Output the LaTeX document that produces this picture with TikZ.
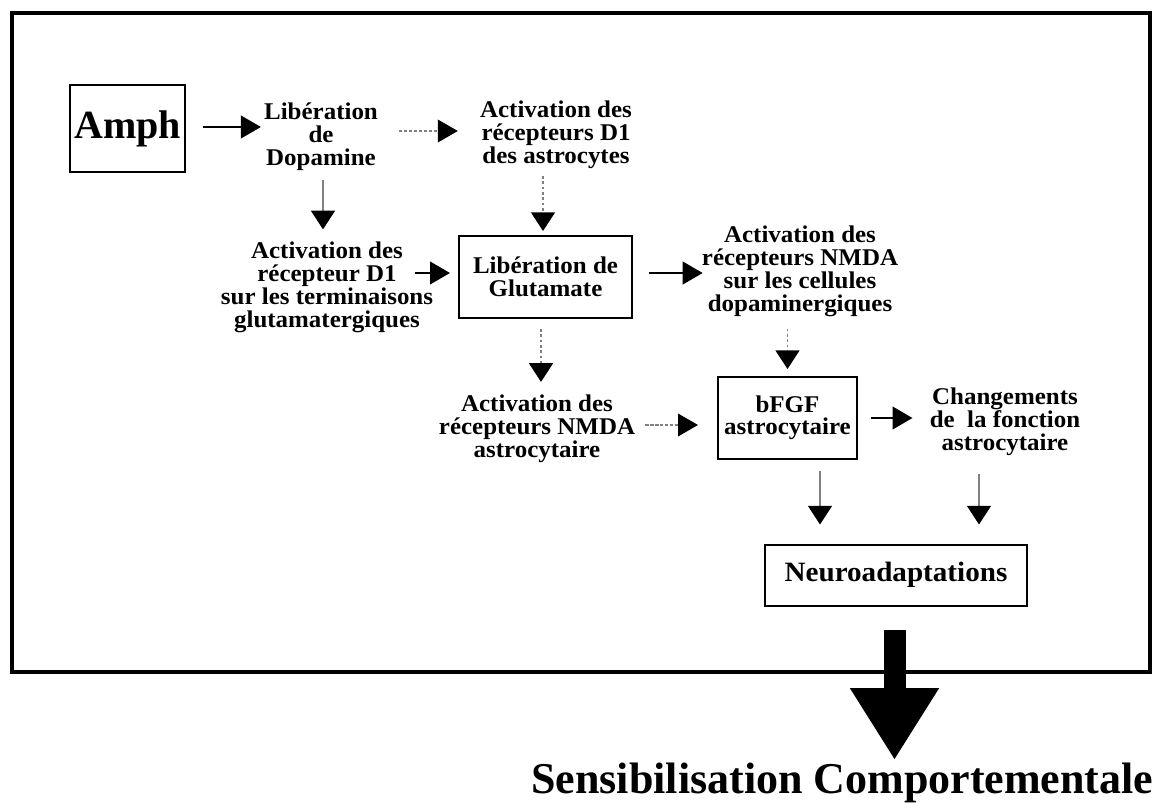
\documentclass[tikz,border=0pt]{standalone}
\usepackage{fontspec}
\setmainfont{Liberation Serif}
\newfontfamily\widefont{Liberation Serif}[FakeStretch=1.04]
\usetikzlibrary{arrows.meta,calc}
\begin{document}
\begin{tikzpicture}[x=0.75pt,y=-0.75pt,
  lbl/.style={font=\widefont\bfseries\fontsize{18}{17.2}\selectfont, align=center, inner sep=0pt},
  box/.style={draw, line width=1.5pt, inner sep=0pt, align=center, font=\widefont\bfseries\fontsize{18}{16.8}\selectfont},
  harr/.style={line width=1.5pt, -{Triangle[length=15pt,width=17pt]}},
  varr/.style={line width=0.9pt, draw=black!50, -{Triangle[length=14pt,width=18pt,color=black,fill=black]}},
  dasharr/.style={line width=1.1pt, draw=black!50, dash pattern=on 2.5pt off 1.2pt, -{Triangle[length=15pt,width=17pt,color=black,fill=black]}},
  dotarr/.style={line width=1.1pt, draw=black!50, dash pattern=on 2pt off 2pt, -{Triangle[length=14pt,width=18pt,color=black,fill=black]}},
  bigarr/.style={line width=16.5pt, -{Triangle[length=54pt,width=63pt]}}
]
\useasboundingbox (0,0) rectangle (1154,803);
% outer frame
\draw[line width=2.6pt] (12,13) rectangle (1150,672);

% nodes
\node[box, minimum width=86.25pt, minimum height=65.25pt, font=\bfseries\fontsize{30}{30}\selectfont] (amph) at (127.5,128.5) {Amph};
\node[lbl] (lib) at (321,137) {Libération\\de\\Dopamine};
\node[lbl] (astroD1) at (556,135) {Activation des\\récepteurs D1\\des astrocytes};
\node[lbl] (term) at (327,287) {Activation des\\récepteur D1\\sur les terminaisons\\glutamatergiques};
\node[box, minimum width=129.75pt, minimum height=61.5pt] (glut) at (545.5,277) {Libération de\\Glutamate};
\node[lbl] (nmdaCells) at (800,271) {Activation des\\récepteurs NMDA\\sur les cellules\\dopaminergiques};
\node[lbl] (nmdaAstro) at (537,429) {Activation des\\récepteurs NMDA\\astrocytaire};
\node[box, minimum width=104.25pt, minimum height=61.5pt] (bfgf) at (787.5,418) {bFGF\\astrocytaire};
\node[lbl] (chg) at (1005,422) {Changements\\de~~la fonction\\astrocytaire};
\node[box, minimum width=196.5pt, minimum height=45.75pt, font=\widefont\bfseries\fontsize{21}{21}\selectfont] (neuro) at (896,575) {Neuroadaptations};
\node[anchor=base west, inner sep=0pt, font=\bfseries\fontsize{33}{33}\selectfont] (sens) at (531,793) {Sensibilisation Comportementale};
\coordinate (bigtip) at (894.5,760);

% connectors
\draw[harr] ($(amph.east)+(17,-1.5)$) -- ($(amph.east -| lib.west)+(-3,-1.5)$);
\draw[dasharr] ($(lib.east)+(21,-6)$) -- ($(lib.east -| astroD1.west)+(-22,-6)$);
\draw[varr] ($(lib.south)+(2,9)$) -- ($(lib.south |- term.north)+(2,-12)$);
\draw[dotarr] ($(glut.north |- astroD1.south)+(-2.5,7)$) -- ($(glut.north)+(-2.5,-4)$);
\draw[harr] ($(term.east |- glut.west)+(-18,-4)$) -- ($(glut.west)+(-8,-4)$);
\draw[harr] ($(glut.east)+(16,-4)$) -- ($(nmdaCells.west |- glut.east)+(1,-4)$);
\draw[dotarr] ($(glut.south)+(-4.5,10)$) -- ($(glut.south |- nmdaAstro.north)+(-4.5,-13)$);
\draw[dotarr] ($(bfgf.north |- nmdaCells.south)+(0,12)$) -- ($(bfgf.north)+(0,-7)$);
\draw[dasharr] ($(nmdaAstro.east |- bfgf.west)+(10,7)$) -- ($(bfgf.west)+(-19,7)$);
\draw[harr] ($(bfgf.east)+(13,0)$) -- ($(chg.west |- bfgf.east)+(-17,0)$);
\draw[varr] ($(bfgf.south)+(32.5,11)$) -- ($(bfgf.south |- neuro.north)+(32.5,-19)$);
\draw[varr] ($(chg.south)+(-26,18)$) -- ($(chg.south |- neuro.north)+(-26,-19)$);
\draw[bigarr] ($(neuro.south)+(-1.5,23)$) -- (bigtip);
\end{tikzpicture}
\end{document}
